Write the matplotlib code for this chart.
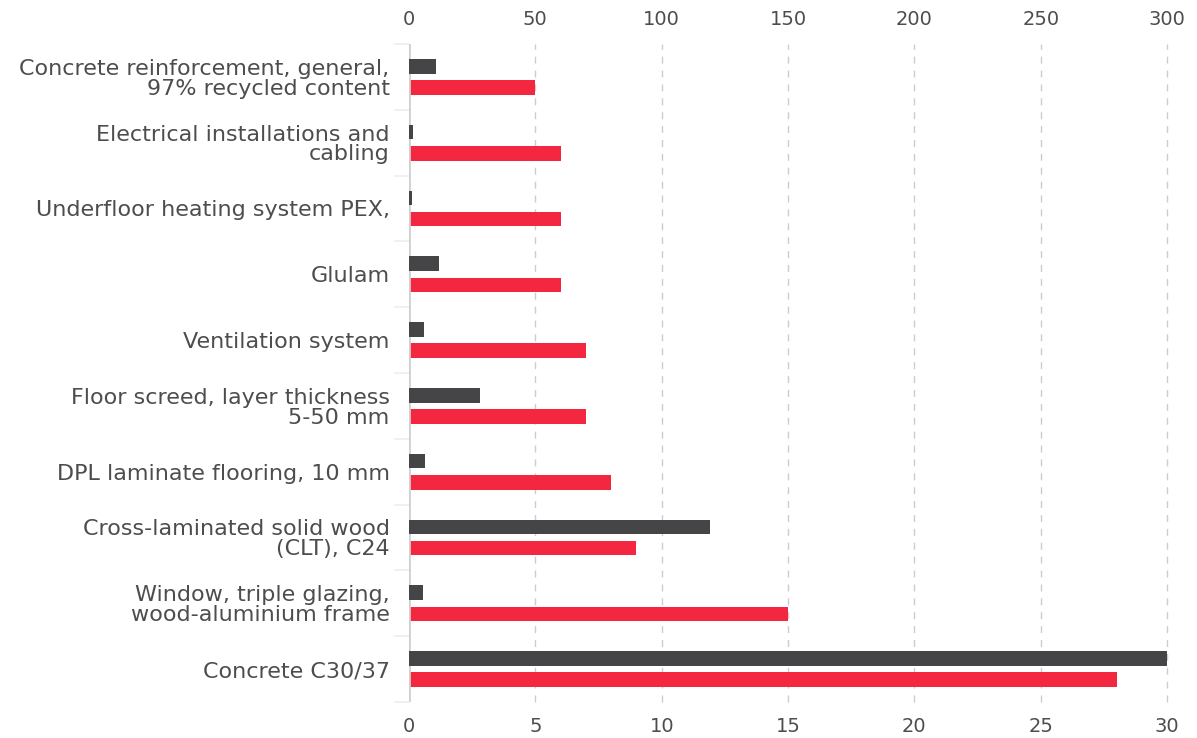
import numpy as np
import matplotlib.pyplot as plt
from matplotlib.ticker import MultipleLocator, FixedLocator

plt.rcParams['font.family'] = ['DejaVu Sans']

labels = [
    'Concrete reinforcement, general,\n97% recycled content',
    'Electrical installations and\ncabling',
    'Underfloor heating system PEX,',
    'Glulam',
    'Ventilation system',
    'Floor screed, layer thickness\n5-50 mm',
    'DPL laminate flooring, 10 mm',
    'Cross-laminated solid wood\n(CLT), C24',
    'Window, triple glazing,\nwood-aluminium frame',
    'Concrete C30/37',
]
# dark series read on the top axis (0-300), red series on the bottom axis (0-30)
dark_vals = [10.5, 1.7, 1.3, 12, 6.1, 28, 6.4, 119, 5.4, 300]
red_vals = [5, 6, 6, 6, 7, 7, 8, 9, 15, 28]

dark = '#454547'
red = '#f32840'
text_c = '#4d4d4d'
grid_c = '#cccccc'

y = np.arange(len(labels))
h = 0.222
off = 0.16

fig = plt.figure(figsize=(11.97, 7.38), dpi=100)
ax = fig.add_axes([0.3417, 0.0488, 0.975 - 0.3417, 0.9404 - 0.0488])
ax2 = ax.twiny()

ax.barh(y + off, red_vals, height=h, color=red, zorder=3)
ax2.barh(y - off, dark_vals, height=h, color=dark, zorder=3)

ax.set_xlim(0, 30)
ax2.set_xlim(0, 300)
ax.set_ylim(len(labels) - 0.5, -0.5)

ax.xaxis.set_major_locator(MultipleLocator(5))
ax2.xaxis.set_major_locator(MultipleLocator(50))
ax.tick_params(axis='x', length=0, pad=11, labelsize=14, labelcolor=text_c)
ax2.tick_params(axis='x', length=0, pad=11, labelsize=14, labelcolor=text_c)

# vertical dashed grid
for v in range(5, 31, 5):
    ax.axvline(v, color=grid_c, linestyle=(0, (5, 5)), linewidth=1, zorder=1, clip_on=False)

ax.set_yticks(y)
ax.set_yticklabels(labels, fontsize=16, color=text_c, linespacing=0.98)
ax.tick_params(axis='y', which='major', length=0, pad=14)
ax.yaxis.set_minor_locator(FixedLocator(np.arange(-0.5, len(labels), 1)))
ax.tick_params(axis='y', which='minor', length=11, width=1.2, color='#eeeeee')

for a in (ax, ax2):
    for s in ('top', 'right', 'bottom', 'left'):
        a.spines[s].set_visible(False)
ax.axvline(0, color='#d0d0d0', linewidth=2, zorder=4)

fig.savefig('out.png', dpi=100)
